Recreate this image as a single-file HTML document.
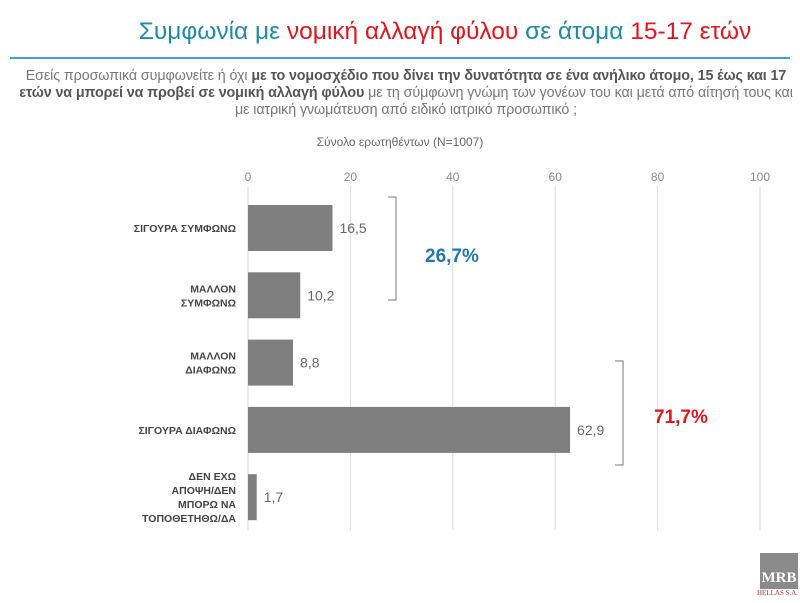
<!DOCTYPE html>
<html><head><meta charset="utf-8"><style>
body{margin:0;width:800px;height:600px;background:#fff;font-family:"Liberation Sans",sans-serif;position:relative;overflow:hidden}
.abs{position:absolute}
</style></head><body>
<div class="abs" style="left:90px;width:710px;top:18px;text-align:center;font-size:24.5px;color:#1f8aa8;white-space:nowrap">Συμφωνία με <span style="color:#e0151e">νομική αλλαγή φύλου</span> σε άτομα <span style="color:#e0151e">15-17 ετών</span></div>
<div class="abs" style="left:10px;width:780px;top:57px;height:2px;background:#3aa6d0"></div>
<div class="abs" style="left:0;width:812px;top:68px;text-align:center;font-size:14.3px;line-height:17px;color:#777;white-space:nowrap;letter-spacing:-0.1px">Εσείς προσωπικά συμφωνείτε ή όχι <b style="color:#555">με το νομοσχέδιο που δίνει την δυνατότητα σε ένα ανήλικο άτομο, 15 έως και 17</b><br><b style="color:#555">ετών να μπορεί να προβεί σε νομική αλλαγή φύλου</b> με τη σύμφωνη γνώμη των γονέων του και μετά από αίτησή τους και<br>με ιατρική γνωμάτευση από ειδικό ιατρικό προσωπικό ;</div>
<div class="abs" style="left:0;width:800px;top:135px;text-align:center;font-size:12px;color:#666">Σύνολο ερωτηθέντων (N=1007)</div>
<svg class="abs" style="left:0;top:0" width="800" height="600" id="chart"></svg>
<div class="abs" style="left:760px;top:553px;width:38px;height:36px;background:#8a8a8a;color:#fff;font-family:'Liberation Serif',serif;font-weight:bold;font-size:15px;text-align:center;line-height:50px">MRB</div>
<div class="abs" style="left:757px;top:589px;font-size:7px;color:#a33;font-family:'Liberation Serif',serif;white-space:nowrap">HELLAS S.A.</div>
<script>
const categories=["ΣΙΓΟΥΡΑ ΣΥΜΦΩΝΩ","ΜΑΛΛΟΝ|ΣΥΜΦΩΝΩ","ΜΑΛΛΟΝ|ΔΙΑΦΩΝΩ","ΣΙΓΟΥΡΑ ΔΙΑΦΩΝΩ","ΔΕΝ ΕΧΩ|ΑΠΟΨΗ/ΔΕΝ|ΜΠΟΡΩ ΝΑ|ΤΟΠΟΘΕΤΗΘΩ/ΔΑ"];
const values=[16.5,10.2,8.8,62.9,1.7];
const ticks=[0,20,40,60,80,100];
const ns="http://www.w3.org/2000/svg",svg=document.getElementById('chart');
const x=v=>248+v*5.12, y=i=>205+i*67.3, bh=46;
function mk(t,a){const e=document.createElementNS(ns,t);for(const k in a)e.setAttribute(k,a[k]);svg.appendChild(e);return e;}
ticks.forEach(t=>{
 const l=mk('line',{x1:x(t),x2:x(t),y1:186,y2:530,stroke:'#ddd','stroke-width':1});
 
 
 const tx=mk('text',{x:x(t),y:181,'text-anchor':'middle','font-size':12,fill:'#888'});tx.textContent=t;
 
 
});
values.forEach((v,i)=>{
 const r=mk('rect',{x:x(0),y:y(i),width:x(v)-x(0),height:bh,fill:'#7f7f7f'});
 
 
 const t=mk('text',{x:x(v)+7,y:y(i)+bh/2+5,'font-size':14,fill:'#666'});t.textContent=String(v).replace('.',',');
 
 
 const lines=categories[i].split('|');
 const g=mk('text',{'text-anchor':'end','font-size':10.5,'font-weight':'bold',fill:'#444'});
 
 
 lines.forEach((s,j)=>{const ts=document.createElementNS(ns,'tspan');ts.setAttribute('x',236);ts.setAttribute('y',y(i)+bh/2+4+(j-(lines.length-1)/2)*14);ts.textContent=s;g.appendChild(ts);});
});
function brace(x0,y1,y2,name){const p=mk('path',{d:`M${x0} ${y1} H${x0+8} V${y2} H${x0}`,fill:'none',stroke:'#777','stroke-width':1});}
brace(388,197,300,'agree-brace');brace(615,361,465,'disagree-brace');
const a=mk('text',{x:425,y:262,'font-size':19,'font-weight':'bold',fill:'#1f78b4'});a.textContent='26,7%';


const d=mk('text',{x:654,y:423,'font-size':19,'font-weight':'bold',fill:'#e0151e'});d.textContent='71,7%';


</script>
</body></html>
